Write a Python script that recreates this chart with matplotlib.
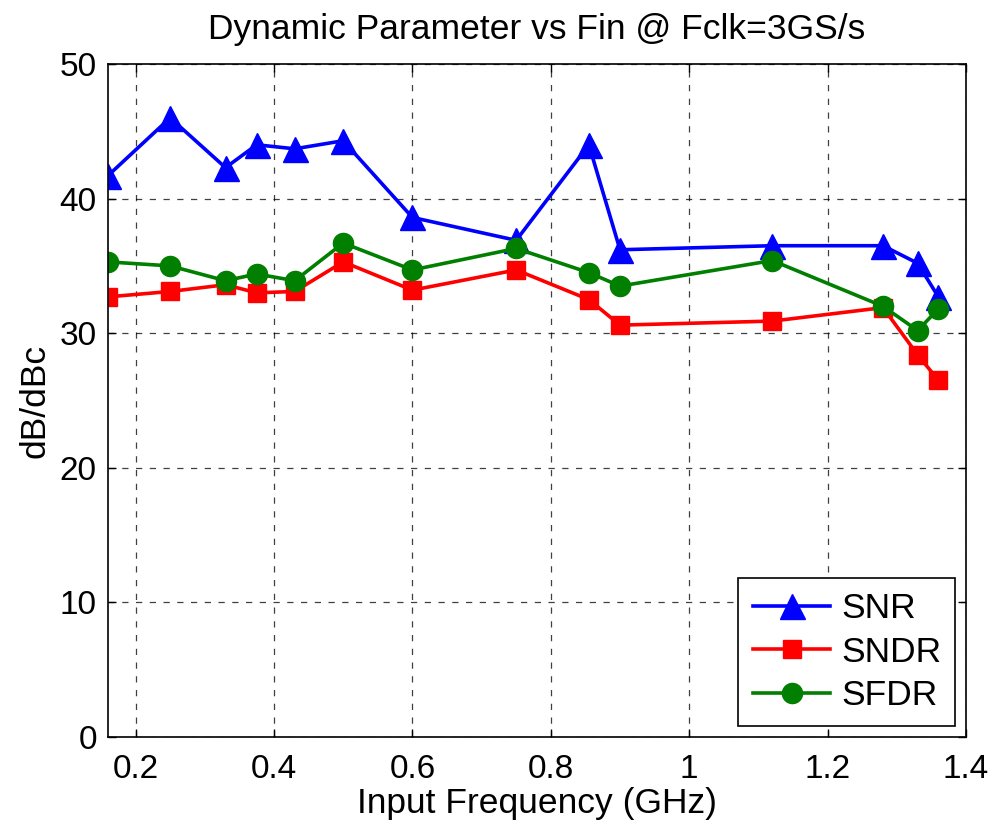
import matplotlib
matplotlib.use('Agg')
import matplotlib.pyplot as plt

plt.rcParams['font.family'] = ['Liberation Sans', 'DejaVu Sans']

# 输入频率 (GHz)
fin = [0.16, 0.25, 0.33, 0.375, 0.43, 0.5, 0.6, 0.75, 0.855, 0.9, 1.12, 1.28, 1.33, 1.36]
# 各项动态参数 (dB / dBc)
snr = [41.7, 46.0, 42.3, 44.0, 43.7, 44.3, 38.6, 36.9, 44.0, 36.2, 36.5, 36.5, 35.2, 32.7]
sndr = [32.7, 33.1, 33.6, 33.0, 33.1, 35.3, 33.2, 34.7, 32.5, 30.6, 30.9, 31.9, 28.4, 26.5]
sfdr = [35.3, 35.0, 33.9, 34.4, 33.9, 36.7, 34.7, 36.3, 34.5, 33.5, 35.4, 32.0, 30.2, 31.8]

xticks = [0.2, 0.4, 0.6, 0.8, 1, 1.2, 1.4]
xtick_labels = ['0.2', '0.4', '0.6', '0.8', '1', '1.2', '1.4']
yticks = [0, 10, 20, 30, 40, 50]

fig = plt.figure(figsize=(9.99, 8.25), dpi=100)
ax = fig.add_axes([0.108, 0.1067, 0.859, 0.8157])

ax.plot(fin, snr, color='#0000ff', lw=2.6, marker='^', ms=18, label='SNR')
ax.plot(fin, sndr, color='#ff0000', lw=2.6, marker='s', ms=13.5, label='SNDR')
ax.plot(fin, sfdr, color='#007f00', lw=2.6, marker='o', ms=14.5, label='SFDR')

ax.set_xlim(0.16, 1.4)
ax.set_ylim(0, 50)
ax.set_xticks(xticks)
ax.set_xticklabels(xtick_labels)
ax.set_yticks(yticks)
ax.tick_params(direction='in', top=True, right=True, labelsize=24, length=6, width=1)
ax.tick_params(axis='x', pad=12)
ax.tick_params(axis='y', pad=8)
ax.grid(True, color='black', linestyle=(0, (5, 6)), linewidth=0.9, alpha=0.75)
for s in ax.spines.values():
    s.set_linewidth(1.2)

ax.set_xlabel('Input Frequency (GHz)', fontsize=25.5, labelpad=2)
ax.set_ylabel('dB/dBc', fontsize=25.5, labelpad=6)
ax.set_title('Dynamic Parameter vs Fin @ Fclk=3GS/s', fontsize=25.5, pad=18)

leg = ax.legend(loc='lower right', fontsize=25.5, handlelength=2.2, handletextpad=0.3,
                fancybox=False, framealpha=1, edgecolor='black', borderpad=0.4,
                labelspacing=0.3, borderaxespad=0.3)
leg.get_frame().set_linewidth(1.2)

plt.savefig('out.png', dpi=100)
